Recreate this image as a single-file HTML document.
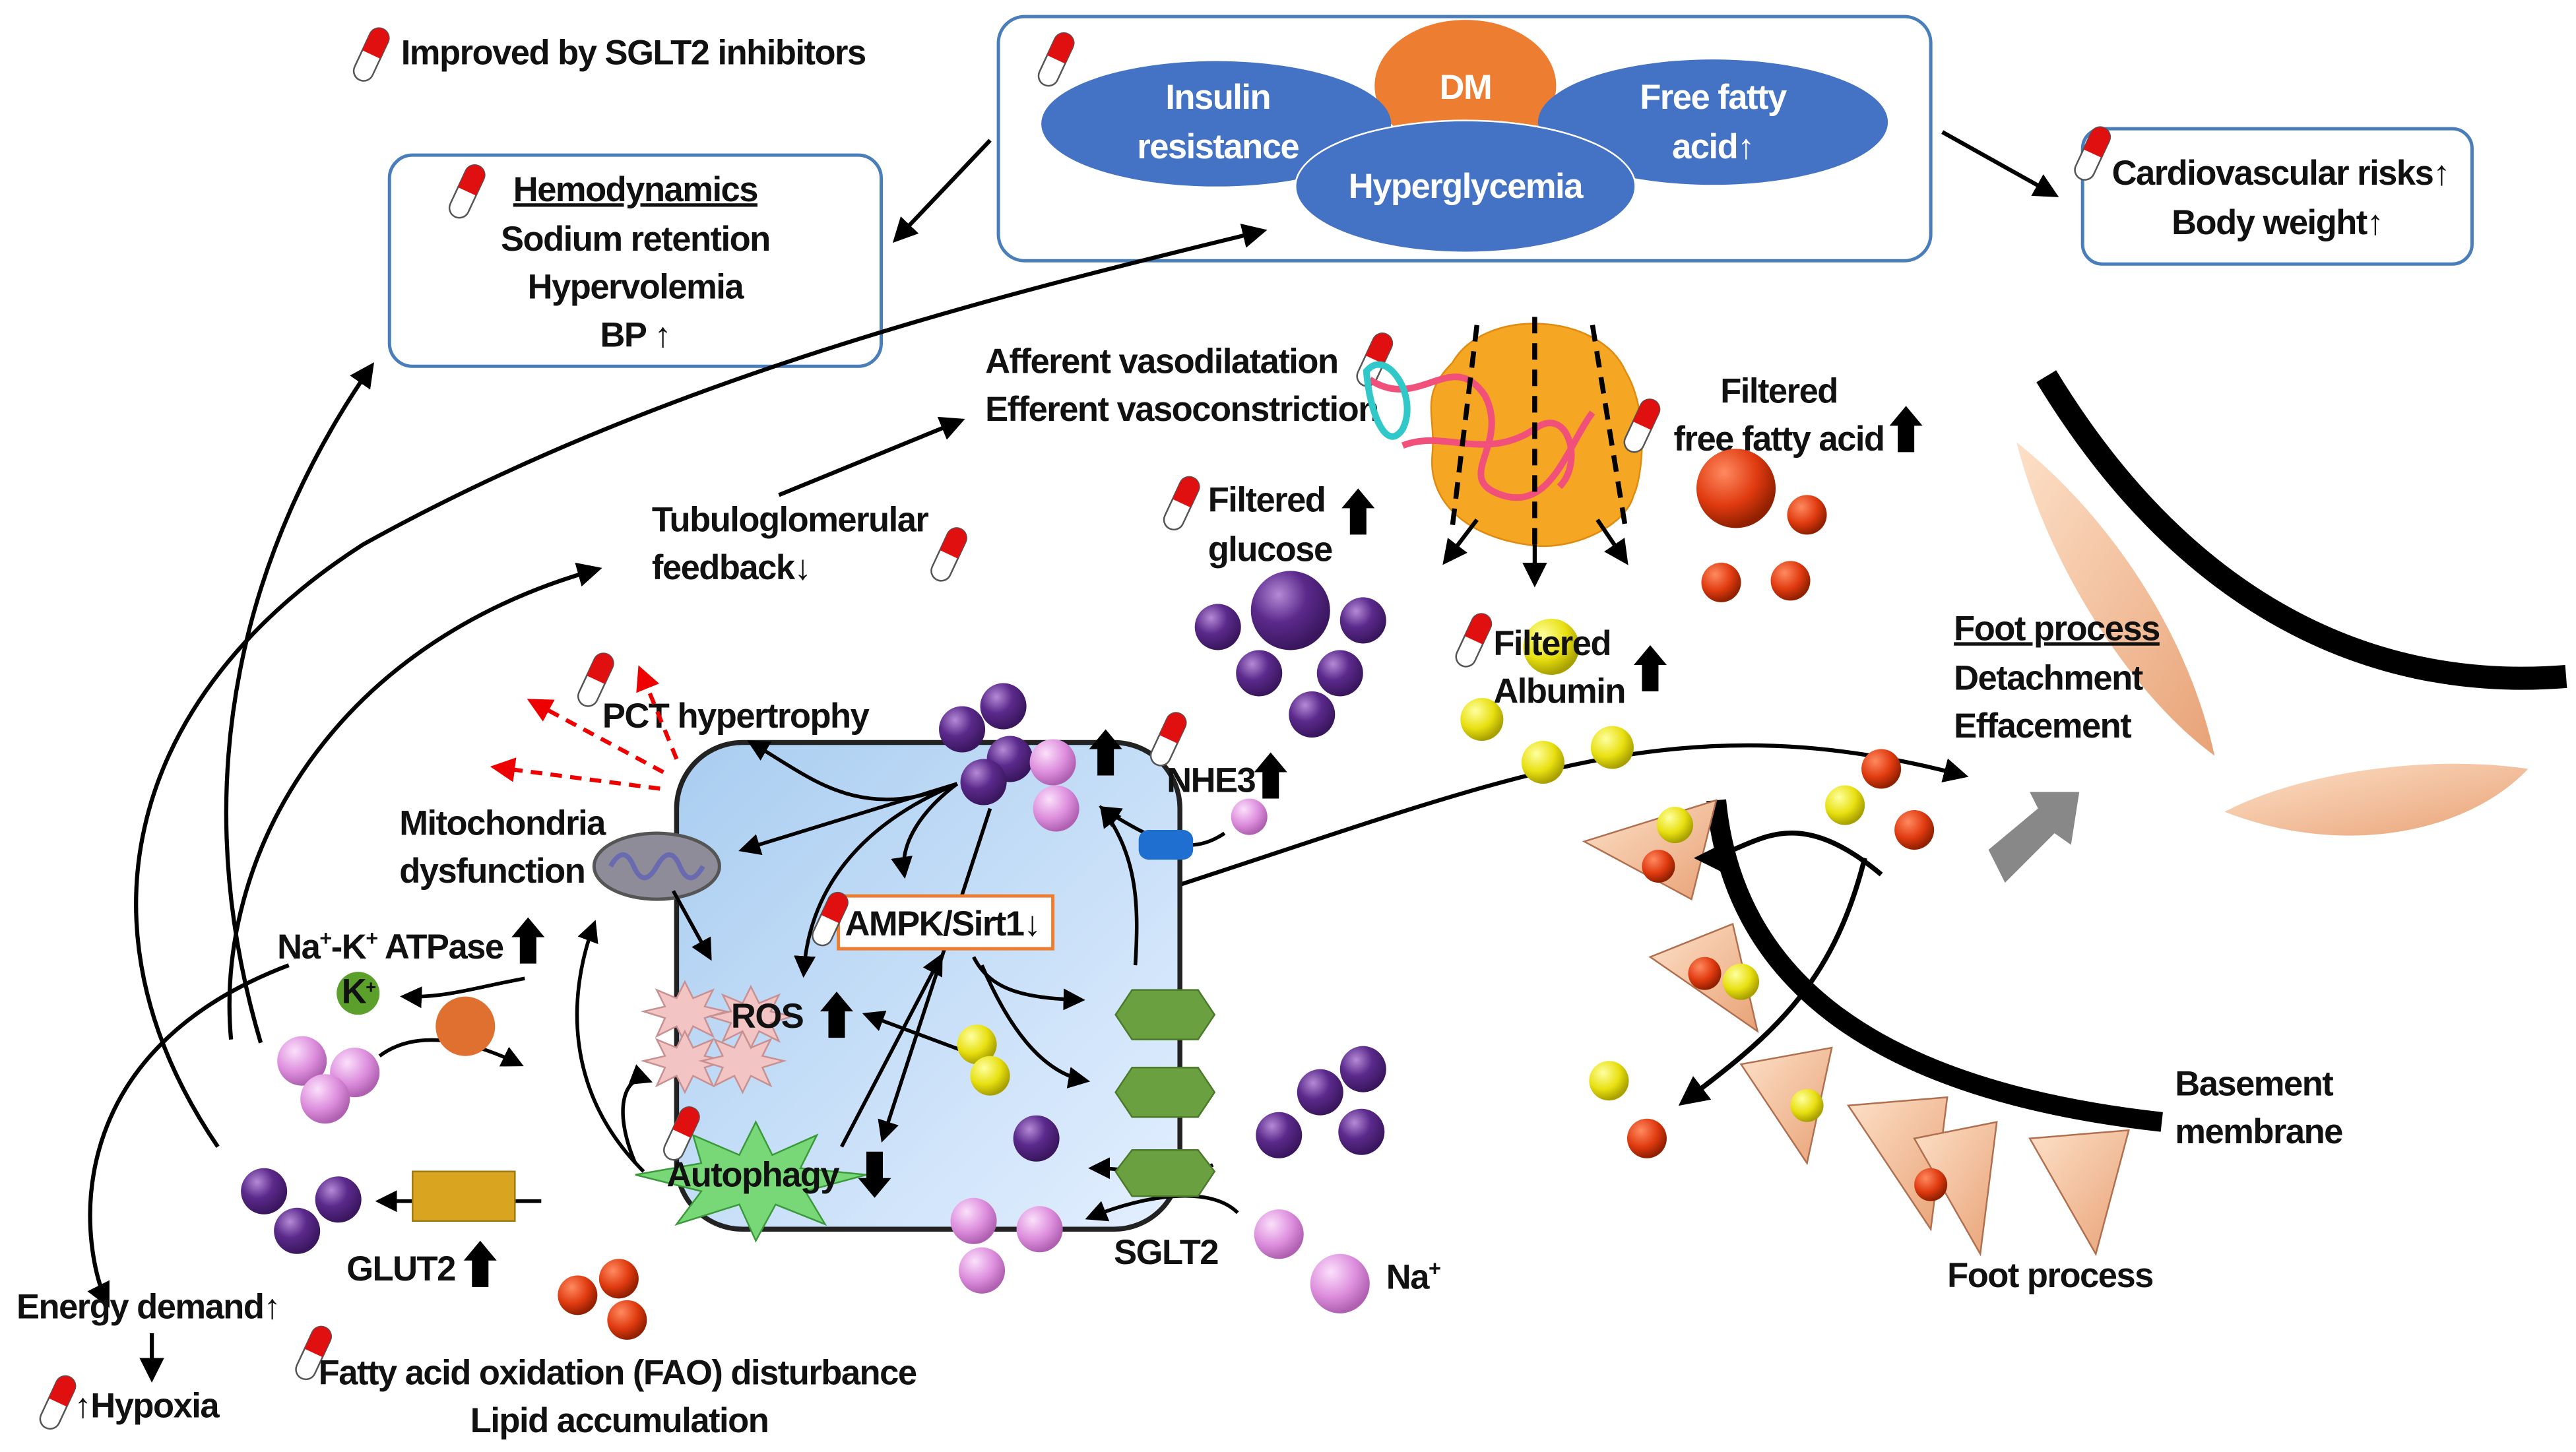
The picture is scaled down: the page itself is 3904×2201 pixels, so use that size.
<!DOCTYPE html>
<html><head><meta charset="utf-8"><style>
html,body{margin:0;padding:0;background:#fff;}
svg{display:block;}
text{font-family:"Liberation Sans Narrow","Liberation Sans",sans-serif;font-weight:bold;font-size:21px;fill:#111;letter-spacing:-0.6px;}
</style></head><body>
<svg width="3904" height="2201" viewBox="0 0 1561 880" xmlns="http://www.w3.org/2000/svg">
<defs>
<marker id="ah" viewBox="0 0 10 10" refX="8" refY="5" markerWidth="6" markerHeight="6" orient="auto-start-reverse"><path d="M0,0L10,5L0,10z" fill="#000"/></marker>
<marker id="rh" viewBox="0 0 10 10" refX="8" refY="5" markerWidth="6" markerHeight="6" orient="auto"><path d="M0,0L10,5L0,10z" fill="#e00"/></marker>
<g id="pill"><g transform="rotate(25)"><rect x="-6" y="-17" width="12" height="34" rx="6" fill="#fff" stroke="#555" stroke-width="1"/><path d="M-6,0V-11A6,6 0 0 1 6,-11V0z" fill="#e01010"/></g></g>
<g id="up"><path d="M-5,12V-4H-10L0,-16L10,-4H5V12z" fill="#000"/></g>
<radialGradient id="gp" cx="35%" cy="30%" r="70%"><stop offset="0" stop-color="#b58ad6"/><stop offset=".5" stop-color="#5b2a8c"/><stop offset="1" stop-color="#3a165e"/></radialGradient>
<radialGradient id="gk" cx="35%" cy="30%" r="70%"><stop offset="0" stop-color="#fbe0fb"/><stop offset=".6" stop-color="#dd8edd"/><stop offset="1" stop-color="#b060b0"/></radialGradient>
<radialGradient id="gy" cx="35%" cy="30%" r="70%"><stop offset="0" stop-color="#ffffa0"/><stop offset=".6" stop-color="#e8e010"/><stop offset="1" stop-color="#a8a000"/></radialGradient>
<radialGradient id="gr" cx="35%" cy="30%" r="70%"><stop offset="0" stop-color="#ff8a60"/><stop offset=".6" stop-color="#e03a10"/><stop offset="1" stop-color="#902000"/></radialGradient>
<linearGradient id="gc" x1="0" y1="0" x2="1" y2="1"><stop offset="0" stop-color="#a9cdf0"/><stop offset="1" stop-color="#e3efff"/></linearGradient>
<linearGradient id="gt" x1="0" y1="0" x2="1" y2="1"><stop offset="0" stop-color="#fde0c8"/><stop offset="1" stop-color="#e8a276"/></linearGradient>
</defs>

<use href="#pill" x="225" y="33"/>
<text x="243" y="39">Improved by SGLT2 inhibitors</text>

<rect x="236" y="94" width="298" height="128" rx="14" fill="#fff" stroke="#4a7ebb" stroke-width="2"/>
<use href="#pill" x="283" y="116"/>
<g text-anchor="middle">
<text x="385" y="122" text-decoration="underline">Hemodynamics</text>
<text x="385" y="152">Sodium retention</text>
<text x="385" y="181">Hypervolemia</text>
<text x="385" y="210">BP ↑</text>
</g>

<rect x="605" y="10" width="565" height="148" rx="16" fill="#fff" stroke="#4a7ebb" stroke-width="2"/>
<use href="#pill" x="640" y="36"/>
<ellipse cx="888" cy="52" rx="55" ry="40" fill="#ed7d31"/>
<ellipse cx="737" cy="75" rx="106" ry="38" fill="#4472c4"/>
<ellipse cx="1038" cy="74" rx="106" ry="38" fill="#4472c4"/>
<ellipse cx="888" cy="113" rx="103" ry="40" fill="#4472c4" stroke="#fff" stroke-width="1"/>
<g text-anchor="middle">
<text x="888" y="60" style="fill:#fff">DM</text>
<text x="738" y="66" style="fill:#fff">Insulin</text>
<text x="738" y="96" style="fill:#fff">resistance</text>
<text x="1038" y="66" style="fill:#fff">Free fatty</text>
<text x="1038" y="96" style="fill:#fff">acid↑</text>
<text x="888" y="120" style="fill:#fff">Hyperglycemia</text>
</g>

<rect x="1262" y="78" width="236" height="82" rx="12" fill="#fff" stroke="#4a7ebb" stroke-width="2"/>
<use href="#pill" x="1268" y="93"/>
<g text-anchor="middle"><text x="1382" y="112">Cardiovascular risks↑</text><text x="1380" y="142">Body weight↑</text></g>

<g fill="none" stroke="#000" stroke-width="2.5" marker-end="url(#ah)">
<path d="M600,85L543,145"/>
<path d="M1177,80L1245,118"/>
<path d="M132,695C40,560 80,420 220,330C400,230 600,180 765,140"/>
<path d="M158,632C110,470 150,330 225,222"/>
<path d="M175,585C30,640 50,760 65,790"/>
<path d="M140,630C130,520 200,390 362,345"/>
<path d="M472,300L582,255"/>
<path d="M92,808L92,835"/>
<path d="M640,560C900,480 1000,420 1190,470"/>
</g>

<text x="597" y="226">Afferent vasodilatation</text>
<text x="597" y="255">Efferent vasoconstriction</text>
<use href="#pill" x="833" y="218"/>
<text x="395" y="322">Tubuloglomerular</text>
<text x="395" y="351">feedback↓</text>
<use href="#pill" x="575" y="336"/>

<path d="M880,220C900,185 970,190 985,225C1000,250 995,290 990,300C985,320 950,335 925,330C890,325 865,305 868,275C870,250 860,240 880,220z" fill="#f5a623" stroke="#e08a10"/>
<g fill="none" stroke="#f0507a" stroke-width="4">
<path d="M830,230C860,250 880,210 900,240C915,270 880,290 910,300C940,310 950,270 965,250"/>
<path d="M850,270C875,260 900,280 930,260C950,245 960,280 945,295"/>
</g>
<path d="M828,225C840,210 860,240 850,260C840,275 830,250 828,225z" fill="none" stroke="#30c8c8" stroke-width="4"/>
<g stroke="#000" stroke-width="3" stroke-dasharray="10,6" fill="none">
<path d="M930,192L930,330"/><path d="M895,197L880,320"/><path d="M965,197L985,320"/>
</g>
<g stroke="#000" stroke-width="2.5" marker-end="url(#ah)"><path d="M895,315L876,340"/><path d="M930,330L930,353"/><path d="M968,315L985,340"/></g>

<use href="#pill" x="995" y="258"/>
<g text-anchor="middle"><text x="1078" y="244">Filtered</text><text x="1078" y="273">free fatty acid</text></g>
<use href="#up" x="1155" y="262"/>
<circle cx="1052" cy="296" r="24" fill="url(#gr)"/>
<circle cx="1095" cy="312" r="12" fill="url(#gr)"/><circle cx="1043" cy="353" r="12" fill="url(#gr)"/><circle cx="1085" cy="352" r="12" fill="url(#gr)"/>

<use href="#pill" x="716" y="305"/>
<text x="732" y="310">Filtered</text><text x="732" y="340">glucose</text>
<use href="#up" x="823" y="312"/>
<circle cx="782" cy="370" r="24" fill="url(#gp)"/>
<g fill="url(#gp)"><circle cx="738" cy="380" r="14"/><circle cx="826" cy="376" r="14"/><circle cx="763" cy="408" r="14"/><circle cx="812" cy="408" r="14"/><circle cx="795" cy="433" r="14"/></g>

<circle cx="940" cy="392" r="17" fill="url(#gy)"/>
<use href="#pill" x="893" y="388"/>
<text x="905" y="397">Filtered</text><text x="905" y="426">Albumin</text>
<use href="#up" x="1000" y="407"/>
<g fill="url(#gy)"><circle cx="898" cy="436" r="13"/><circle cx="935" cy="462" r="13"/><circle cx="977" cy="453" r="13"/></g>

<rect x="410" y="450" width="305" height="295" rx="40" fill="url(#gc)" stroke="#222" stroke-width="3"/>
<text x="365" y="441">PCT hypertrophy</text>
<use href="#pill" x="361" y="412"/>
<g stroke="#e00" stroke-width="2.5" stroke-dasharray="7,5" fill="none" marker-end="url(#rh)">
<path d="M410,460L388,406"/><path d="M402,468L322,425"/><path d="M400,478L300,465"/>
</g>
<text x="242" y="506">Mitochondria</text><text x="242" y="535">dysfunction</text>
<ellipse cx="398" cy="525" rx="38" ry="20" fill="#8e8c98" stroke="#555" stroke-width="2"/>
<path d="M370,525q8,-14 14,0t14,0t14,0t14,0" fill="none" stroke="#6a6ab0" stroke-width="3"/>

<g fill="none" stroke="#000" stroke-width="2.2" marker-end="url(#ah)">
<path d="M580,475C520,500 490,470 455,450"/>
<path d="M580,475L450,515"/>
<path d="M580,475C520,500 490,540 487,590"/>
<path d="M580,475C560,490 545,510 548,530"/>
<path d="M600,490L535,690"/>
<path d="M510,695L570,580"/>
<path d="M590,580C600,600 620,605 655,606"/>
<path d="M595,585C610,620 630,650 658,655"/>
<path d="M688,585C690,550 690,520 668,490"/>
<path d="M592,640L525,615"/>
<path d="M408,540L430,580"/>
<path d="M385,705C370,670 380,650 393,655"/>
<path d="M390,710C340,660 345,600 360,560"/>
<path d="M742,505C720,520 700,510 668,490"/>
<path d="M735,706C715,716 690,708 662,708"/>
<path d="M750,735C735,720 700,722 660,738"/>
<path d="M328,728L230,728"/>
<path d="M318,593C290,598 270,605 245,604"/>
<path d="M230,640C250,625 280,628 315,645"/>
</g>

<rect x="508" y="543" width="130" height="32" fill="#fff" stroke="#ed7d31" stroke-width="2"/>
<text x="512" y="567">AMPK/Sirt1↓</text>
<use href="#pill" x="503" y="557"/>

<g fill="#f2c4c4" stroke="#c89090">
<polygon points="415,595 420,605 432,600 427,610 440,613 427,617 432,628 420,622 415,632 410,622 398,628 403,617 390,613 403,610 398,600 410,605"/>
<polygon points="415,625 420,635 432,630 427,640 440,643 427,647 432,658 420,652 415,662 410,652 398,658 403,647 390,643 403,640 398,630 410,635"/>
<polygon points="450,625 455,635 467,630 462,640 475,643 462,647 467,658 455,652 450,662 445,652 433,658 438,647 425,643 438,640 433,630 445,635"/>
<polygon points="455,598 460,608 472,603 467,613 480,616 467,620 472,631 460,625 455,635 450,625 438,631 443,620 430,616 443,613 438,603 450,608"/>
</g>
<text x="443" y="623">ROS</text>
<use href="#up" x="507" y="617"/>

<polygon points="458,680 468,700 495,688 485,708 525,712 488,722 500,742 470,730 458,752 448,730 410,742 425,722 385,712 425,705 420,688 448,700" fill="#78d878" stroke="#3a9a3a"/>
<text x="404" y="719">Autophagy</text>
<use href="#pill" x="413" y="687"/>
<g transform="translate(530,710) rotate(180)"><use href="#up"/></g>

<text x="168" y="581">Na<tspan font-size="13" dy="-8">+</tspan><tspan dy="8">-K</tspan><tspan font-size="13" dy="-8">+</tspan><tspan dy="8"> ATPase</tspan></text>
<use href="#up" x="320" y="572"/>
<circle cx="217" cy="602" r="13" fill="#5aa02a"/><text x="207" y="608" font-size="16">K<tspan font-size="11" dy="-6">+</tspan></text>
<circle cx="282" cy="622" r="18" fill="#e07030"/>
<g fill="url(#gk)"><circle cx="183" cy="643" r="15"/><circle cx="215" cy="650" r="15"/><circle cx="197" cy="666" r="15"/></g>

<g fill="url(#gy)"><circle cx="592" cy="633" r="12"/><circle cx="600" cy="652" r="12"/></g>

<g fill="url(#gp)"><circle cx="583" cy="442" r="14"/><circle cx="608" cy="428" r="14"/><circle cx="612" cy="460" r="14"/><circle cx="596" cy="474" r="14"/></g>
<g fill="url(#gk)"><circle cx="638" cy="462" r="14"/><circle cx="640" cy="490" r="14"/></g>
<use href="#up" x="670" y="458"/>
<use href="#pill" x="708" y="448"/>
<text x="707" y="480">NHE3</text>
<use href="#up" x="770" y="472"/>
<rect x="690" y="503" width="33" height="18" rx="6" fill="#1f6fd0"/>
<circle cx="757" cy="495" r="11" fill="url(#gk)"/>

<g fill="#6aa040" stroke="#4a7a2a">
<polygon points="676,615 686,600 726,600 736,615 726,630 686,630"/>
<polygon points="676,662 686,647 726,647 736,662 726,677 686,677"/>
<polygon points="676,710 686,697 726,697 736,710 726,725 686,725"/>
</g>
<text x="675" y="766">SGLT2</text>
<g fill="url(#gp)"><circle cx="628" cy="690" r="14"/><circle cx="775" cy="688" r="14"/><circle cx="800" cy="662" r="14"/><circle cx="826" cy="648" r="14"/><circle cx="825" cy="686" r="14"/></g>
<g fill="url(#gk)"><circle cx="590" cy="740" r="14"/><circle cx="630" cy="745" r="14"/><circle cx="595" cy="770" r="14"/><circle cx="775" cy="748" r="15"/><circle cx="812" cy="778" r="18"/></g>
<text x="840" y="781">Na<tspan font-size="13" dy="-8">+</tspan></text>

<rect x="250" y="710" width="62" height="30" fill="#d9a520" stroke="#a07810"/>
<text x="210" y="776">GLUT2</text>
<use href="#up" x="291" y="768"/>
<g fill="url(#gp)"><circle cx="160" cy="722" r="14"/><circle cx="205" cy="727" r="14"/><circle cx="180" cy="746" r="14"/></g>
<g fill="url(#gr)"><circle cx="350" cy="785" r="12"/><circle cx="375" cy="775" r="12"/><circle cx="380" cy="800" r="12"/></g>

<text x="10" y="799">Energy demand↑</text>
<use href="#pill" x="35" y="850"/>
<text x="45" y="859">↑Hypoxia</text>
<use href="#pill" x="190" y="820"/>
<text x="193" y="839">Fatty acid oxidation (FAO) disturbance</text>
<text x="285" y="868">Lipid accumulation</text>

<path d="M1240,228C1320,360 1430,420 1555,410" fill="none" stroke="#000" stroke-width="14"/>
<path d="M1222,268C1275,310 1325,380 1342,458C1290,420 1240,340 1222,268z" fill="url(#gt)"/>
<path d="M1348,492C1400,465 1480,458 1532,466C1495,505 1420,520 1348,492z" fill="url(#gt)"/>
<path d="M1040,485C1050,590 1130,660 1310,680" fill="none" stroke="#000" stroke-width="12"/>
<g fill="url(#gt)" stroke="#b07050" stroke-width="1">
<polygon points="960,510 1040,485 1025,545"/>
<polygon points="1000,580 1050,560 1065,625"/>
<polygon points="1055,645 1110,635 1095,705"/>
<polygon points="1120,670 1180,665 1170,745"/>
<polygon points="1160,690 1210,680 1200,760"/>
<polygon points="1230,690 1290,685 1270,760"/>
</g>
<g fill="url(#gy)"><circle cx="1015" cy="500" r="11"/><circle cx="1055" cy="595" r="11"/><circle cx="1118" cy="488" r="12"/><circle cx="975" cy="655" r="12"/><circle cx="1095" cy="670" r="10"/></g>
<g fill="url(#gr)"><circle cx="1005" cy="525" r="10"/><circle cx="1033" cy="590" r="10"/><circle cx="1140" cy="466" r="12"/><circle cx="1160" cy="503" r="12"/><circle cx="998" cy="690" r="12"/><circle cx="1170" cy="718" r="10"/></g>
<g fill="none" stroke="#000" stroke-width="3" marker-end="url(#ah)">
<path d="M1140,530C1080,480 1060,520 1030,520"/>
<path d="M1130,520C1110,600 1070,630 1020,668"/>
</g>
<polygon points="1205,515 1235,490 1230,480 1260,480 1255,512 1245,505 1215,535" fill="#888"/>
<text x="1184" y="388" text-decoration="underline">Foot process</text>
<text x="1184" y="418">Detachment</text>
<text x="1184" y="447">Effacement</text>
<text x="1318" y="664">Basement</text>
<text x="1318" y="693">membrane</text>
<text x="1180" y="780">Foot process</text>
</svg>
</body></html>
